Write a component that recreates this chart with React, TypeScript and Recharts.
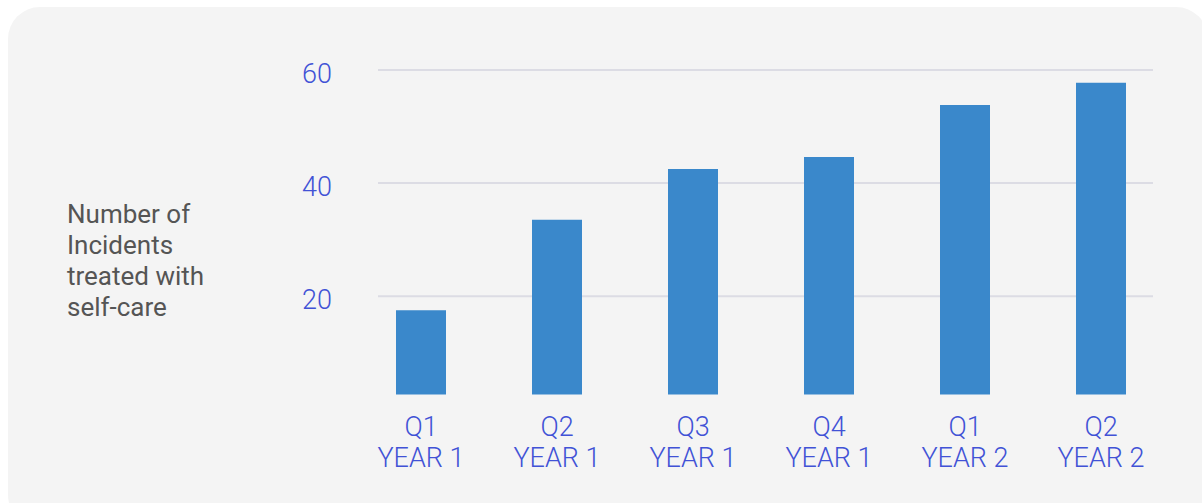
import React from 'react';
import { BarChart, Bar, XAxis, YAxis, CartesianGrid, Label } from 'recharts';

const quarters = ['Q1', 'Q2', 'Q3', 'Q4', 'Q1', 'Q2'];
const years = ['YEAR 1', 'YEAR 1', 'YEAR 1', 'YEAR 1', 'YEAR 2', 'YEAR 2'];
const incidents = [17.5, 33.5, 42.5, 44.6, 53.8, 57.75];
const yTicks = [20, 40, 60];
const yLabelLines = ['Number of', 'Incidents', 'treated with', 'self-care'];

const chartData = quarters.map((q, i) => ({
  name: `${q}\n${years[i]}`,
  incidents: incidents[i],
}));

const TICK_COLOR = '#4152d6';
const FONT = 'Roboto, "Noto Sans", sans-serif';

const XTick = (props: any) => {
  const { x, y, payload } = props;
  const lines = String(payload.value).split('\n');
  return (
    <g transform={`translate(${x},${y})`}>
      {lines.map((line, i) => (
        <text
          key={i}
          x={0}
          y={33 + i * 31}
          textAnchor="middle"
          fill={TICK_COLOR}
          fontSize={27}
          fontWeight={300}
          fontFamily={FONT}
        >
          {line}
        </text>
      ))}
    </g>
  );
};

const YTick = (props: any) => {
  const { x, y, payload } = props;
  return (
    <text x={x - 15} y={y + 13} textAnchor="end" fill={TICK_COLOR} fontSize={27} fontWeight={300} fontFamily={FONT}>
      {payload.value}
    </text>
  );
};

// grid only at the labelled ticks, a little inset from the plot edges
const GridLine = (props: any) => {
  const { x1, x2, y1, y2 } = props;
  if (y1 > 380) return null;
  return <line x1={x1 + 25} x2={x2 - 16} y1={y1} y2={y2} stroke="#dcdce4" strokeWidth={2} />;
};

const YLabel = () => (
  <text x={67} y={223} fill="#555555" fontSize={26} fontFamily={FONT}>
    {yLabelLines.map((line, i) => (
      <tspan key={i} x={67} y={223 + i * 31}>
        {line}
      </tspan>
    ))}
  </text>
);

const App: React.FC = () => {
  return (
    <div style={{ position: 'absolute', left: 0, top: 0, width: 1202, height: 503, background: '#ffffff', overflow: 'hidden' }}>
      <div
        style={{
          position: 'absolute',
          left: 8,
          top: 7,
          width: 1200,
          height: 520,
          borderRadius: 32,
          background: '#f4f4f4',
        }}
      />
      <div style={{ position: 'absolute', left: 0, top: 0 }}>
        <BarChart
          width={1202}
          height={503}
          data={chartData}
          margin={{ top: 70, right: 33, left: 293, bottom: 8.5 }}
          barCategoryGap={43}
        >
          <CartesianGrid vertical={false} horizontal={(p: any) => <GridLine key={p.key} {...p} />} />
          <XAxis dataKey="name" interval={0} axisLine={false} tickLine={false} tick={<XTick />} height={100} />
          <YAxis
            domain={[2.6, 60]}
            ticks={yTicks}
            width={60}
            axisLine={false}
            tickLine={false}
            tickMargin={0}
            tick={<YTick />}
          >
            <Label content={<YLabel />} />
          </YAxis>
          <Bar dataKey="incidents" fill="#3a88cb" barSize={50} isAnimationActive={false} />
        </BarChart>
      </div>
    </div>
  );
};

export default App;
